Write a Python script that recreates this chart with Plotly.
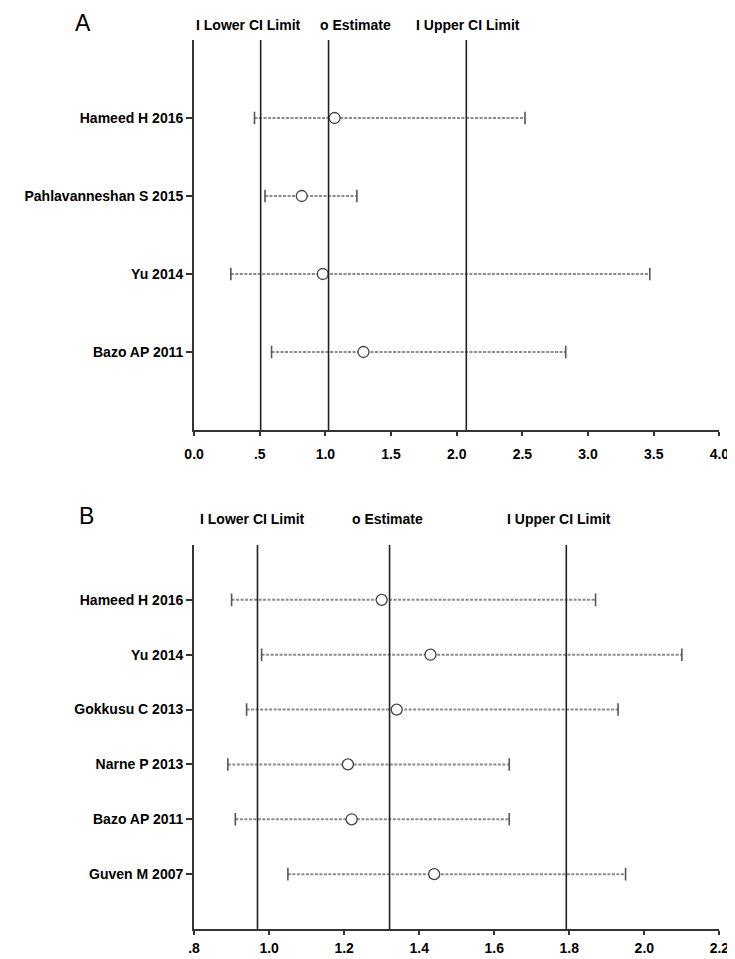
import plotly.graph_objects as go

W, H = 735, 959

# ---------------- Data ----------------
# Panel A
studies_a = ["Hameed H 2016", "Pahlavanneshan S 2015", "Yu 2014", "Bazo AP 2011"]
est_a = [1.07, 0.82, 0.98, 1.29]
lo_a = [0.46, 0.54, 0.28, 0.59]
hi_a = [2.52, 1.24, 3.47, 2.83]
summary_a = [0.507, 1.024, 2.073]   # lower CI, estimate, upper CI
ticks_a = [0.0, 0.5, 1.0, 1.5, 2.0, 2.5, 3.0, 3.5, 4.0]
ticktext_a = ["0.0", ".5", "1.0", "1.5", "2.0", "2.5", "3.0", "3.5", "4.0"]

# Panel B
studies_b = ["Hameed H 2016", "Yu 2014", "Gokkusu C 2013", "Narne P 2013",
             "Bazo AP 2011", "Guven M 2007"]
est_b = [1.30, 1.43, 1.34, 1.21, 1.22, 1.44]
lo_b = [0.90, 0.98, 0.94, 0.89, 0.91, 1.05]
hi_b = [1.87, 2.10, 1.93, 1.64, 1.64, 1.95]
summary_b = [0.969, 1.321, 1.792]
ticks_b = [0.8, 1.0, 1.2, 1.4, 1.6, 1.8, 2.0, 2.2]
ticktext_b = [".8", "1.0", "1.2", "1.4", "1.6", "1.8", "2.0", "2.2"]

legend_texts = ["I Lower CI Limit", "o Estimate", "I Upper CI Limit"]

# ---------------- Styles ----------------
FONT = "Liberation Sans"
AXCOL = "#333333"
DASHCOL = "#8c8c8c"
CAPCOL = "#555555"

fig = go.Figure()


def add_panel(fig, names, est, lo, hi, xa, ya):
    ys = list(range(1, len(names) + 1))
    for y, l, h in zip(ys, lo, hi):
        fig.add_trace(go.Scatter(
            x=[l, h], y=[y, y], mode="lines", xaxis=xa, yaxis=ya,
            line=dict(color=DASHCOL, width=2, dash="3px,1.5px"),
            showlegend=False, hoverinfo="skip"))
    fig.add_trace(go.Scatter(
        x=lo + hi, y=ys + ys, mode="markers", xaxis=xa, yaxis=ya,
        marker=dict(symbol="line-ns", size=9, line=dict(color=CAPCOL, width=1.6)),
        showlegend=False, hoverinfo="skip"))
    fig.add_trace(go.Scatter(
        x=est, y=ys, mode="markers", xaxis=xa, yaxis=ya,
        marker=dict(symbol="circle", size=11, color="white",
                    line=dict(color="#444444", width=1.3)),
        showlegend=False))


add_panel(fig, studies_a, est_a, lo_a, hi_a, "x", "y")
add_panel(fig, studies_b, est_b, lo_b, hi_b, "x2", "y2")

# summary vertical lines
for v in summary_a:
    fig.add_shape(type="line", xref="x", yref="y domain", x0=v, x1=v, y0=0, y1=1,
                  line=dict(color="#222222", width=1.6))
for v in summary_b:
    fig.add_shape(type="line", xref="x2", yref="y2 domain", x0=v, x1=v, y0=0, y1=1,
                  line=dict(color="#222222", width=1.6))

tickfont = dict(family=FONT, size=14, color="black", weight="bold")
xdom = [181 / W, 721 / W]


def xaxis_cfg(rng, tv, tt, anchor, standoff):
    return dict(domain=xdom, range=rng, tickvals=tv, ticktext=tt, anchor=anchor,
                showgrid=False, zeroline=False, showline=True, linecolor=AXCOL,
                linewidth=2, ticks="outside", ticklen=4, tickwidth=1.5,
                tickcolor=AXCOL, tickfont=tickfont, ticklabelstandoff=standoff)


def yaxis_cfg(names, dom, anchor):
    n = len(names)
    return dict(domain=dom, range=[n + 1, 0], tickvals=list(range(1, n + 1)),
                ticktext=names, anchor=anchor, showgrid=False, zeroline=False,
                showline=True, linecolor=AXCOL, linewidth=2, ticks="outside",
                ticklen=6, tickwidth=1.5, tickcolor=AXCOL, tickfont=tickfont)


fig.update_layout(
    width=W, height=H,
    margin=dict(l=0, r=0, t=0, b=0),
    paper_bgcolor="white", plot_bgcolor="white",
    xaxis=xaxis_cfg([0, 4], ticks_a, ticktext_a, "y", 6),
    yaxis=yaxis_cfg(studies_a, [1 - 422 / H, 1 - 32 / H], "x"),
    xaxis2=xaxis_cfg([0.8, 2.2], ticks_b, ticktext_b, "y2", 1),
    yaxis2=yaxis_cfg(studies_b, [1 - 921 / H, 1 - 537 / H], "x2"),
    showlegend=False,
)

# panel letters
for letter, cx, cy in [("A", 67, 15), ("B", 70, 508)]:
    fig.add_annotation(text=letter, x=cx / W, y=1 - cy / H, xref="paper", yref="paper",
                       xanchor="center", yanchor="middle", showarrow=False,
                       font=dict(family=FONT, size=23, color="black"))

# legend-like header texts
leg_font = dict(family=FONT, size=14, color="black", weight="bold")
for txt, cx in zip(legend_texts, [237, 347, 463]):
    fig.add_annotation(text=txt, x=cx / W, y=1 - 17 / H, xref="paper", yref="paper",
                       xanchor="center", yanchor="middle", showarrow=False, font=leg_font)
for txt, cx in zip(legend_texts, [241, 380, 556]):
    fig.add_annotation(text=txt, x=cx / W, y=1 - 511 / H, xref="paper", yref="paper",
                       xanchor="center", yanchor="middle", showarrow=False, font=leg_font)

fig.write_html("out.html")
